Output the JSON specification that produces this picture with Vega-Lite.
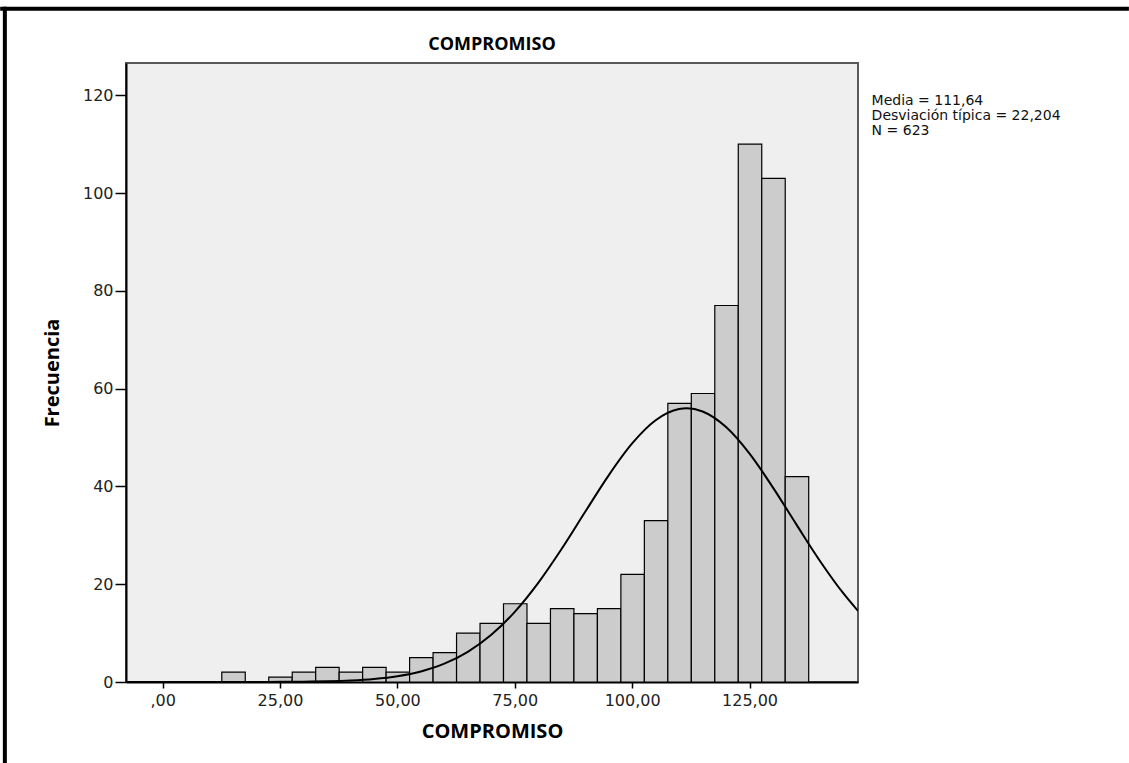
{
  "$schema": "https://vega.github.io/schema/vega-lite/v6.json",
  "width": 732,
  "height": 619,
  "autosize": {"type": "none"},
  "padding": {"left": 126, "top": 63, "right": 271, "bottom": 81},
  "background": "white",
  "config": {
    "view": {"fill": "#efefef", "stroke": "#5a5a5a", "strokeWidth": 2},
    "axis": {"grid": false, "domainColor": "#000", "domainWidth": 2, "tickColor": "#000", "tickWidth": 1.5, "labelFont": "DejaVu Sans", "labelFontSize": 16, "labelColor": "#222", "titleFont": "Open Sans", "titleFontSize": 20, "titleFontWeight": "bold", "titleColor": "#000"}
  },
  "datasets": {
    "bins": [
      {"bin_start": 12.6, "bin_end": 17.6, "count": 2},
      {"bin_start": 22.6, "bin_end": 27.6, "count": 1},
      {"bin_start": 27.6, "bin_end": 32.6, "count": 2},
      {"bin_start": 32.6, "bin_end": 37.6, "count": 3},
      {"bin_start": 37.6, "bin_end": 42.6, "count": 2},
      {"bin_start": 42.6, "bin_end": 47.6, "count": 3},
      {"bin_start": 47.6, "bin_end": 52.6, "count": 2},
      {"bin_start": 52.6, "bin_end": 57.6, "count": 5},
      {"bin_start": 57.6, "bin_end": 62.6, "count": 6},
      {"bin_start": 62.6, "bin_end": 67.6, "count": 10},
      {"bin_start": 67.6, "bin_end": 72.6, "count": 12},
      {"bin_start": 72.6, "bin_end": 77.6, "count": 16},
      {"bin_start": 77.6, "bin_end": 82.6, "count": 12},
      {"bin_start": 82.6, "bin_end": 87.6, "count": 15},
      {"bin_start": 87.6, "bin_end": 92.6, "count": 14},
      {"bin_start": 92.6, "bin_end": 97.6, "count": 15},
      {"bin_start": 97.6, "bin_end": 102.6, "count": 22},
      {"bin_start": 102.6, "bin_end": 107.6, "count": 33},
      {"bin_start": 107.6, "bin_end": 112.6, "count": 57},
      {"bin_start": 112.6, "bin_end": 117.6, "count": 59},
      {"bin_start": 117.6, "bin_end": 122.6, "count": 77},
      {"bin_start": 122.6, "bin_end": 127.6, "count": 110},
      {"bin_start": 127.6, "bin_end": 132.6, "count": 103},
      {"bin_start": 132.6, "bin_end": 137.6, "count": 42}
    ],
    "curve": [
      {"x": -7.8, "y": 0},
      {"x": 0, "y": 0.0002},
      {"x": 10, "y": 0.0016},
      {"x": 20, "y": 0.011},
      {"x": 25, "y": 0.028},
      {"x": 30, "y": 0.065},
      {"x": 35, "y": 0.145},
      {"x": 40, "y": 0.307},
      {"x": 45, "y": 0.62},
      {"x": 50, "y": 1.187},
      {"x": 55, "y": 2.163},
      {"x": 60, "y": 3.744},
      {"x": 65, "y": 6.163},
      {"x": 70, "y": 9.645},
      {"x": 75, "y": 14.343},
      {"x": 80, "y": 20.277},
      {"x": 85, "y": 27.251},
      {"x": 90, "y": 34.809},
      {"x": 95, "y": 42.268},
      {"x": 100, "y": 48.785},
      {"x": 105, "y": 53.523},
      {"x": 110, "y": 55.817},
      {"x": 111.64, "y": 55.97},
      {"x": 115, "y": 55.333},
      {"x": 120, "y": 52.139},
      {"x": 125, "y": 46.703},
      {"x": 130, "y": 39.76},
      {"x": 135, "y": 32.182},
      {"x": 140, "y": 24.757},
      {"x": 145, "y": 18.107},
      {"x": 148.1, "y": 14.538}
    ],
    "stats": [
      {"text": ["Media = 111,64", "Desviación típica = 22,204", "N = 623"]}
    ],
    "title": [
      {"text": "COMPROMISO"}
    ]
  },
  "layer": [
    {
      "data": {"name": "bins"},
      "mark": {"type": "bar", "fill": "#cccccc", "stroke": "#000", "strokeWidth": 1.2, "binSpacing": 0},
      "encoding": {
        "x": {"field": "bin_start", "type": "quantitative", "scale": {"domain": [-7.8, 148.1], "nice": false, "zero": false},
          "axis": {"values": [0, 25, 50, 75, 100, 125], "labelExpr": "datum.value == 0 ? ',00' : datum.value + ',00'", "title": "COMPROMISO", "tickSize": 6, "labelPadding": 4, "titlePadding": 13}},
        "x2": {"field": "bin_end"},
        "y": {"field": "count", "type": "quantitative", "scale": {"domain": [0, 126.6], "nice": false},
          "axis": {"values": [0, 20, 40, 60, 80, 100, 120], "title": "Frecuencia", "tickSize": 11, "labelPadding": 2, "titlePadding": 20}},
        "y2": {"datum": 0}
      }
    },
    {
      "data": {"name": "curve"},
      "mark": {"type": "line", "color": "#000", "strokeWidth": 2, "interpolate": "monotone", "clip": true},
      "encoding": {
        "x": {"field": "x", "type": "quantitative"},
        "y": {"field": "y", "type": "quantitative"}
      }
    },
    {
      "data": {"name": "stats"},
      "mark": {"type": "text", "align": "left", "baseline": "alphabetic", "font": "DejaVu Sans", "fontSize": 14, "lineHeight": 15, "color": "#111", "clip": false},
      "encoding": {
        "x": {"datum": 151.0, "type": "quantitative"},
        "y": {"datum": 118.0, "type": "quantitative"},
        "text": {"field": "text"}
      }
    },
    {
      "data": {"name": "title"},
      "mark": {"type": "text", "align": "center", "baseline": "alphabetic", "font": "Open Sans", "fontSize": 18, "fontWeight": "bold", "color": "#000", "clip": false},
      "encoding": {
        "x": {"datum": 70.15, "type": "quantitative"},
        "y": {"datum": 129.3, "type": "quantitative"},
        "text": {"field": "text"}
      }
    },
    {
      "data": {"values": [{}]},
      "mark": {"type": "rule", "color": "#000", "strokeWidth": 4, "clip": false},
      "encoding": {
        "x": {"datum": -34.6, "type": "quantitative"},
        "x2": {"datum": 205.8},
        "y": {"datum": 137.7, "type": "quantitative"}
      }
    },
    {
      "data": {"values": [{}]},
      "mark": {"type": "rule", "color": "#000", "strokeWidth": 4, "clip": false},
      "encoding": {
        "x": {"datum": -33.6, "type": "quantitative"},
        "y": {"datum": 138.1, "type": "quantitative"},
        "y2": {"datum": -16.6}
      }
    }
  ]
}
